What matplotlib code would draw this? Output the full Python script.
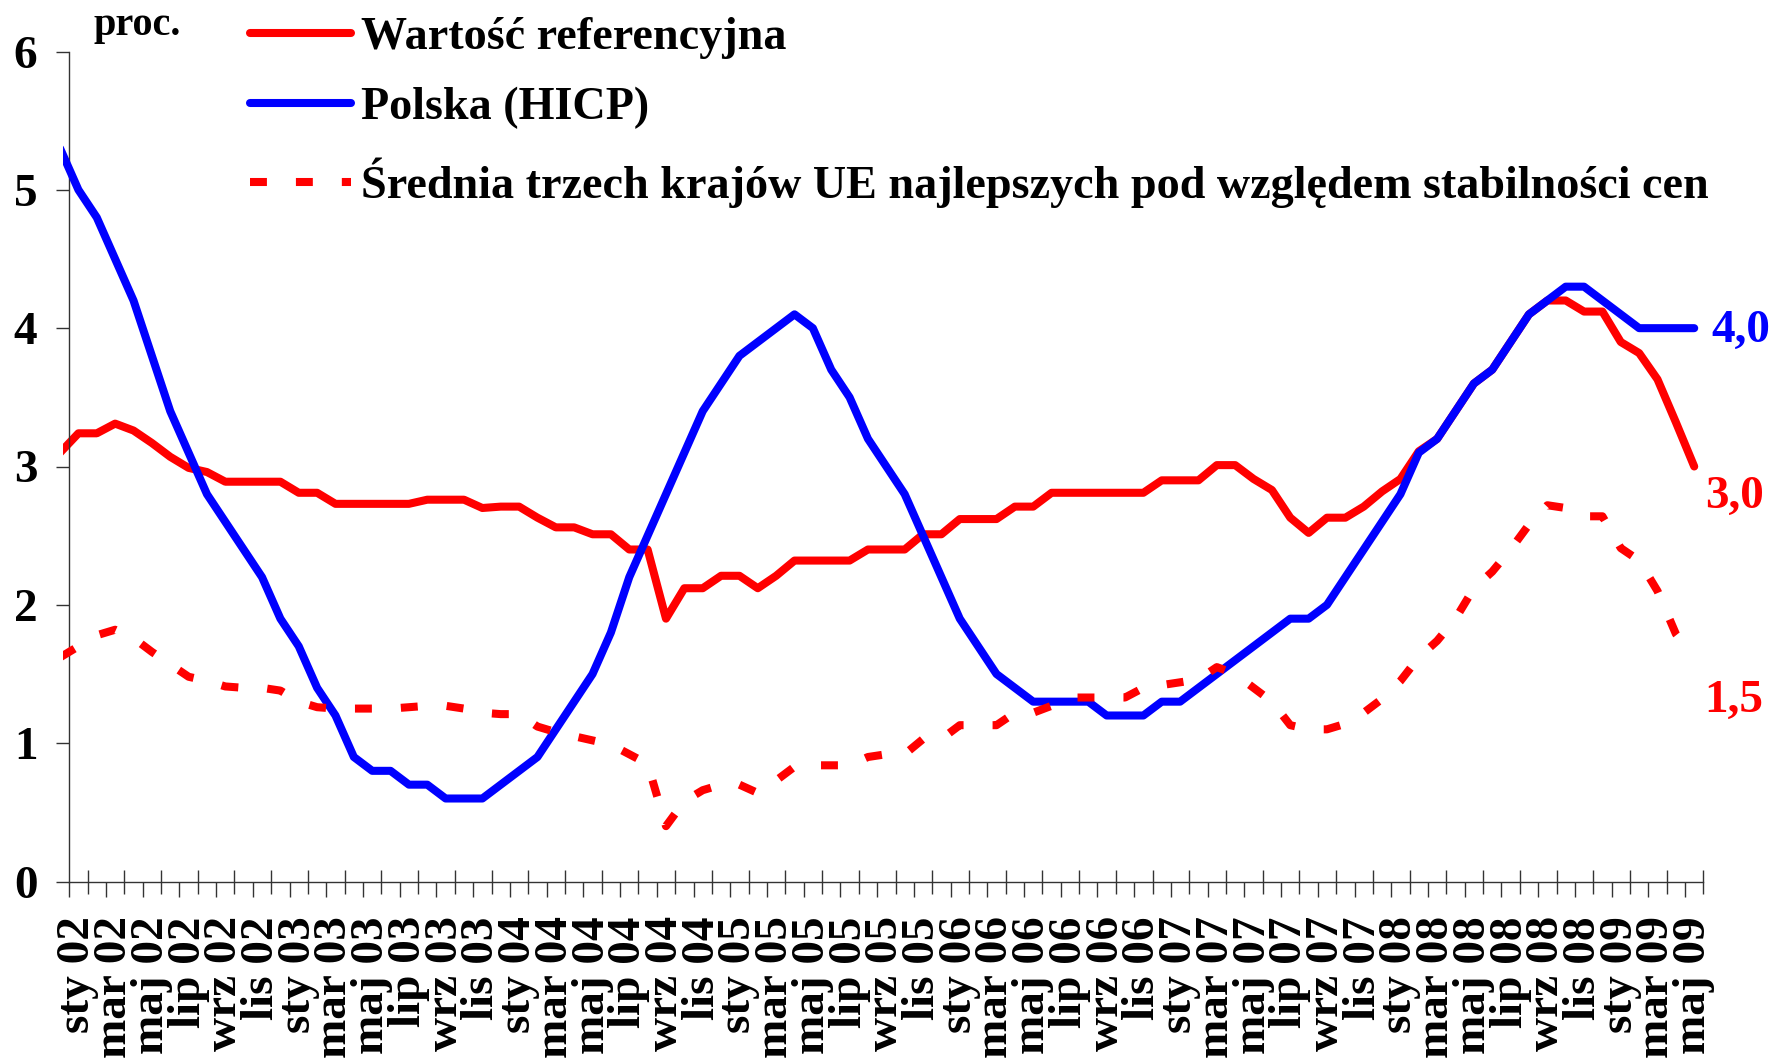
import matplotlib.pyplot as plt
import numpy as np

plt.rcParams['font.family'] = ['Liberation Serif', 'DejaVu Serif']
plt.rcParams['font.weight'] = 'bold'

# miesiące: gru 01 ... maj 09 (pierwszy punkt jest częściowo ucięty przez ramkę)
month_names = ['sty', 'lut', 'mar', 'kwi', 'maj', 'cze',
               'lip', 'sie', 'wrz', 'paź', 'lis', 'gru']
periods = ['gru 01'] + [f'{m} {y:02d}' for y in range(2, 10) for m in month_names][:89]

reference_value = [
    3.10, 3.24, 3.24, 3.31, 3.26, 3.17, 3.07, 2.99, 2.96, 2.89,
    2.89, 2.89, 2.89, 2.81, 2.81, 2.73, 2.73, 2.73, 2.73, 2.73,
    2.76, 2.76, 2.76, 2.70, 2.71, 2.71, 2.63, 2.56, 2.56, 2.51,
    2.51, 2.40, 2.40, 1.90, 2.12, 2.12, 2.21, 2.21, 2.12, 2.21,
    2.32, 2.32, 2.32, 2.32, 2.40, 2.40, 2.40, 2.51, 2.51, 2.62,
    2.62, 2.62, 2.71, 2.71, 2.81, 2.81, 2.81, 2.81, 2.81, 2.81,
    2.90, 2.90, 2.90, 3.01, 3.01, 2.91, 2.83, 2.63, 2.52, 2.63,
    2.63, 2.71, 2.82, 2.91, 3.11, 3.20, 3.40, 3.60, 3.70, 3.90,
    4.10, 4.20, 4.20, 4.12, 4.12, 3.90, 3.82, 3.63, 3.32, 3.00,
]
poland_hicp = [
    5.3, 5.0, 4.8, 4.5, 4.2, 3.8, 3.4, 3.1, 2.8, 2.6,
    2.4, 2.2, 1.9, 1.7, 1.4, 1.2, 0.9, 0.8, 0.8, 0.7,
    0.7, 0.6, 0.6, 0.6, 0.7, 0.8, 0.9, 1.1, 1.3, 1.5,
    1.8, 2.2, 2.5, 2.8, 3.1, 3.4, 3.6, 3.8, 3.9, 4.0,
    4.1, 4.0, 3.7, 3.5, 3.2, 3.0, 2.8, 2.5, 2.2, 1.9,
    1.7, 1.5, 1.4, 1.3, 1.3, 1.3, 1.3, 1.2, 1.2, 1.2,
    1.3, 1.3, 1.4, 1.5, 1.6, 1.7, 1.8, 1.9, 1.9, 2.0,
    2.2, 2.4, 2.6, 2.8, 3.1, 3.2, 3.4, 3.6, 3.7, 3.9,
    4.1, 4.2, 4.3, 4.3, 4.2, 4.1, 4.0, 4.0, 4.0, 4.0,
]
best_three = [
    1.62, 1.70, 1.78, 1.82, 1.76, 1.66, 1.57, 1.48, 1.45, 1.41,
    1.40, 1.40, 1.38, 1.30, 1.26, 1.25, 1.25, 1.25, 1.25, 1.26,
    1.27, 1.27, 1.25, 1.22, 1.21, 1.21, 1.12, 1.08, 1.05, 1.02,
    0.99, 0.92, 0.85, 0.40, 0.58, 0.66, 0.70, 0.70, 0.64, 0.73,
    0.83, 0.84, 0.84, 0.84, 0.90, 0.92, 0.92, 1.03, 1.03, 1.13,
    1.13, 1.13, 1.22, 1.22, 1.27, 1.33, 1.33, 1.33, 1.33, 1.40,
    1.42, 1.44, 1.46, 1.55, 1.50, 1.40, 1.30, 1.13, 1.10, 1.10,
    1.14, 1.22, 1.32, 1.45, 1.62, 1.74, 1.90, 2.12, 2.24, 2.40,
    2.58, 2.72, 2.70, 2.64, 2.64, 2.41, 2.32, 2.10, 1.79, 1.62,
]

series_labels = ['Wartość referencyjna', 'Polska (HICP)',
                 'Średnia trzech krajów UE najlepszych pod względem stabilności cen']
end_labels = ['3,0', '4,0', '1,5']

x = np.arange(len(periods)) - 1  # sty 02 -> 0

fig = plt.figure(figsize=(17.76, 10.58), dpi=100)
ax = fig.add_axes([63 / 1776, 176.5 / 1058, 1640.4 / 1776, 830 / 1058])

lw = 5.8
l_ref, = ax.plot(x, reference_value, color='#FF0000', lw=lw,
                 solid_capstyle='round', solid_joinstyle='round', zorder=2,
                 label=series_labels[0])
l_pl, = ax.plot(x, poland_hicp, color='#0000FF', lw=lw,
                solid_capstyle='round', solid_joinstyle='round', zorder=3,
                label=series_labels[1])
l_best, = ax.plot(x, best_three, color='#FF0000', lw=lw, dashes=(2.1, 3.6),
                  dash_capstyle='butt', zorder=4, label=series_labels[2])

ax.set_xlim(-0.84, 88.5)
ax.set_ylim(0, 6)

for s in ['top', 'right']:
    ax.spines[s].set_visible(False)
ax.spines['left'].set_position(('data', -0.5))
ax.spines['bottom'].set_bounds(-0.5, 88.5)
for s in ['left', 'bottom']:
    ax.spines[s].set_color('#333333')
    ax.spines[s].set_linewidth(1.0)

# znaczniki osi X na granicach miesięcy: na przemian krzyżowe i zewnętrzne
bounds = np.arange(-0.5, 89, 1.0)
ax.set_xticks(bounds[1::2])
ax.set_xticks(bounds[0::2], minor=True)
ax.tick_params(axis='x', which='major', direction='inout', length=17.3,
               width=1.0, color='#333333', labelbottom=False)
ax.tick_params(axis='x', which='minor', direction='out', length=10.8,
               width=1.0, color='#333333')

ax.set_yticks(range(7))
ax.tick_params(axis='y', direction='out', length=9.4, width=1.0,
               color='#333333', pad=13.5, labelsize=34)

# podpisy miesięcy w środkach kategorii
sec = ax.secondary_xaxis('bottom')
sec.set_xticks(x[1::2], periods[1::2])
sec.tick_params(length=0, pad=25, labelsize=34, labelrotation=90)
sec.spines['bottom'].set_visible(False)

ax.legend(handles=[l_ref, l_pl, l_best], loc='upper left',
          bbox_to_anchor=(250 / 1776, 0.9845), bbox_transform=fig.transFigure,
          frameon=False, fontsize=33.2, handlelength=2.2, handletextpad=0.2,
          labelspacing=0.61, borderpad=0, borderaxespad=0)

fig.text(93 / 1776, 1 - 35 / 1058, 'proc.', fontsize=29, va='baseline')

ax.annotate(end_labels[1], (x[-1], poland_hicp[-1]), xytext=(12.7, -9.9),
            textcoords='offset points', color='#0000FF', fontsize=34,
            va='baseline', ha='left', annotation_clip=False)
ax.annotate(end_labels[0], (x[-1], reference_value[-1]), xytext=(7.9, -29.8),
            textcoords='offset points', color='#FF0000', fontsize=34,
            va='baseline', ha='left', annotation_clip=False)
ax.annotate(end_labels[2], (x[-1], best_three[-1]), xytext=(7.2, -39.2),
            textcoords='offset points', color='#FF0000', fontsize=34,
            va='baseline', ha='left', annotation_clip=False)

fig.savefig('out.png', dpi=100)
